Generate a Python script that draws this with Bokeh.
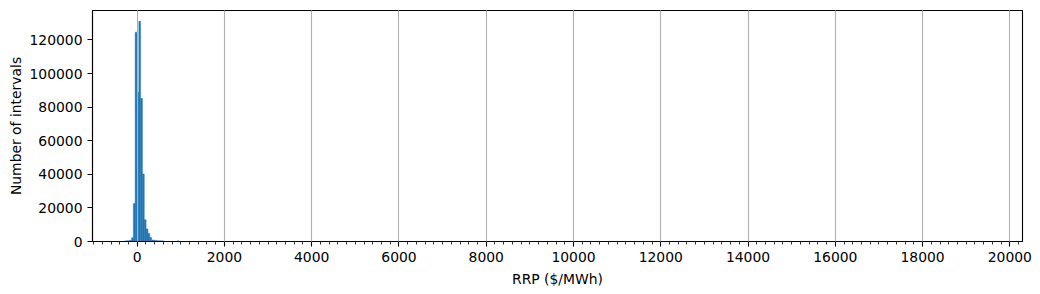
from bokeh.plotting import figure
from bokeh.models import Range1d, FixedTicker, NumeralTickFormatter, ColumnDataSource
from bokeh.embed import file_html
from bokeh.resources import INLINE

# Histogram data (bins of width 42 starting at -299)
bin_start = -299
bin_width = 42
counts = [300, 400, 500, 700, 2200, 22600, 124600, 88800, 131100, 85200,
          40200, 12900, 7500, 4800, 2400, 900, 700, 600, 500, 450,
          400, 350, 0, 0, 0, 0, 0, 0, 0, 400]

x_major_ticks = [0, 2000, 4000, 6000, 8000, 10000, 12000, 14000, 16000, 18000, 20000]
y_major_ticks = [0, 20000, 40000, 60000, 80000, 100000, 120000]

lefts = [bin_start + i * bin_width for i in range(len(counts))]
rights = [l + bin_width for l in lefts]
src = ColumnDataSource(dict(left=lefts, right=rights, top=counts, bottom=[0] * len(counts)))

FONT = "DejaVu Sans"
FS = "13.9px"

p = figure(width=1040, height=294, output_backend="svg", toolbar_location=None,
           x_range=Range1d(-1024, 20290), y_range=Range1d(0, 137500),
           min_border_left=92, min_border_right=18, min_border_top=10, min_border_bottom=53)

p.quad(left="left", right="right", top="top", bottom="bottom", source=src,
       fill_color="#1f77b4", line_color="#1f77b4", line_width=0.4)

p.xaxis.ticker = FixedTicker(ticks=x_major_ticks,
                             minor_ticks=list(range(-1000, 20201, 200)))
p.yaxis.ticker = FixedTicker(ticks=y_major_ticks, minor_ticks=[])
p.yaxis.formatter = NumeralTickFormatter(format="0")
p.xaxis.formatter = NumeralTickFormatter(format="0")

p.xaxis.axis_label = "RRP ($/MWh)"
p.yaxis.axis_label = "Number of intervals"

for ax in (p.xaxis[0], p.yaxis[0]):
    ax.axis_label_text_font = FONT
    ax.axis_label_text_font_size = FS
    ax.axis_label_text_font_style = "normal"
    ax.major_label_text_font = FONT
    ax.major_label_text_font_size = FS
    ax.axis_line_color = "black"
    ax.axis_line_width = 1.1
    ax.major_tick_line_color = "black"
    ax.major_tick_line_width = 1.1
    ax.major_tick_out = 5
    ax.major_tick_in = 0
    ax.minor_tick_line_color = "black"
    ax.minor_tick_line_width = 0.8
    ax.minor_tick_out = 3
    ax.minor_tick_in = 0
    ax.major_label_standoff = 5
    ax.major_label_text_color = "black"
    ax.axis_label_text_color = "black"

p.xaxis[0].axis_label_standoff = 6
p.yaxis[0].axis_label_standoff = 2

p.xgrid.grid_line_color = "#b0b0b0"
p.xgrid.grid_line_width = 1.1
p.xgrid.level = "annotation"
p.ygrid.grid_line_color = None

p.outline_line_color = "black"
p.outline_line_width = 1.1
p.background_fill_color = "white"
p.border_fill_color = "white"

open("out.html", "w").write(file_html(p, INLINE))
